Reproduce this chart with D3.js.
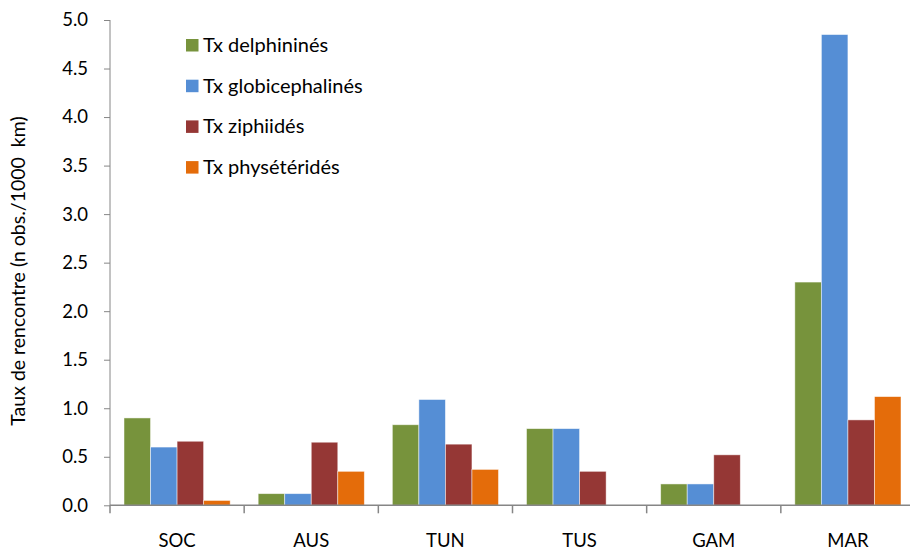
<!DOCTYPE html>
<html>
<head>
<meta charset="utf-8">
<script src="https://cdn.jsdelivr.net/npm/d3@7"></script>
<style>
  html, body { margin: 0; padding: 0; background: #fff; }
  svg { display: block; font-family: "Lato", "Open Sans", sans-serif; }
</style>
</head>
<body>
<svg id="chart" width="910" height="550"></svg>
<script>
// Encounter rates per zone (n obs. / 1000 km)
const zones = ["SOC", "AUS", "TUN", "TUS", "GAM", "MAR"];
const seriesNames = ["Tx delphininés", "Tx globicephalinés", "Tx ziphiidés", "Tx physétéridés"];
const delphinines = [0.90, 0.12, 0.83, 0.79, 0.22, 2.30];
const globicephalines = [0.60, 0.12, 1.09, 0.79, 0.22, 4.85];
const ziphiides = [0.66, 0.65, 0.63, 0.35, 0.52, 0.88];
const physeterides = [0.05, 0.35, 0.37, 0, 0, 1.12];
const yTicks = [0, 0.5, 1.0, 1.5, 2.0, 2.5, 3.0, 3.5, 4.0, 4.5, 5.0];
const colors = ["#77933C", "#558ED5", "#953735", "#E46C0A"];

const seriesValues = [delphinines, globicephalines, ziphiides, physeterides];
const rows = zones.map((z, i) => ({ zone: z, values: seriesValues.map(s => s[i]) }));

const svg = d3.select("#chart");
const plot = { left: 110, right: 915, top: 20, bottom: 505.3 };

const x0 = d3.scaleBand().domain(zones).range([plot.left, plot.right]).padding(0);
const x1 = d3.scaleBand().domain(d3.range(seriesNames.length))
  .range([14, x0.bandwidth() - 14]).padding(0);
const y = d3.scaleLinear().domain([0, 5]).range([plot.bottom, plot.top]);

const axisColor = "#868686";

// Bars
const groups = svg.append("g").selectAll("g").data(rows).join("g")
  .attr("transform", d => `translate(${x0(d.zone)},0)`);
groups.selectAll("rect").data(d => d.values.map((v, k) => ({ k, v })))
  .join("rect")
  .attr("x", d => x1(d.k))
  .attr("width", x1.bandwidth())
  .attr("y", d => y(d.v))
  .attr("height", d => y(0) - y(d.v))
  .attr("fill", d => colors[d.k])
  .attr("stroke", d => d.v > 0 ? "rgba(255,255,255,0.6)" : "none")
  .attr("stroke-width", 0.8);

// Y axis
const yAxis = svg.append("g").attr("transform", `translate(${plot.left},0)`)
  .call(d3.axisLeft(y).tickValues(yTicks).tickFormat(d3.format(".1f")).tickSize(6).tickPadding(16));
yAxis.select(".domain").attr("stroke", axisColor).attr("d", `M0,${plot.top}V${plot.bottom}`);
yAxis.selectAll(".tick line").attr("stroke", axisColor);
yAxis.selectAll(".tick text").attr("font-size", 18.5).attr("fill", "#000")
  .attr("font-family", "Lato, sans-serif");

// X axis
const xAxis = svg.append("g").attr("transform", `translate(0,${plot.bottom})`);
xAxis.append("line").attr("x1", plot.left).attr("x2", plot.right).attr("stroke", axisColor).attr("stroke-width", 1.5);
const sepPositions = zones.map(z => x0(z));
xAxis.selectAll("line.sep").data(sepPositions).join("line")
  .attr("class", "sep")
  .attr("x1", d => d).attr("x2", d => d)
  .attr("y1", 0).attr("y2", 8)
  .attr("stroke", axisColor).attr("stroke-width", 1.5);
xAxis.selectAll("text").data(zones).join("text")
  .attr("x", d => x0(d) + x0.bandwidth() / 2)
  .attr("y", 42)
  .attr("text-anchor", "middle")
  .attr("font-size", 18.5)
  .attr("fill", "#000")
  .text(d => d);

// Y axis title
svg.append("text")
  .attr("transform", `translate(25,${271}) rotate(-90)`)
  .attr("text-anchor", "middle")
  .attr("font-size", 19.5)
  .attr("fill", "#000")
  .attr("xml:space", "preserve")
  .text("Taux de rencontre (n obs./1000  km)");

// Legend
const legend = svg.append("g").attr("transform", "translate(186,39)");
const leg = legend.selectAll("g").data(seriesNames).join("g")
  .attr("transform", (d, i) => `translate(0,${i * 40.7})`);
leg.append("rect").attr("width", 12.5).attr("height", 12.5).attr("fill", (d, i) => colors[i]);
leg.append("text").attr("x", 17).attr("y", 13).attr("font-size", 20).attr("fill", "#000").text(d => d);
</script>
</body>
</html>
